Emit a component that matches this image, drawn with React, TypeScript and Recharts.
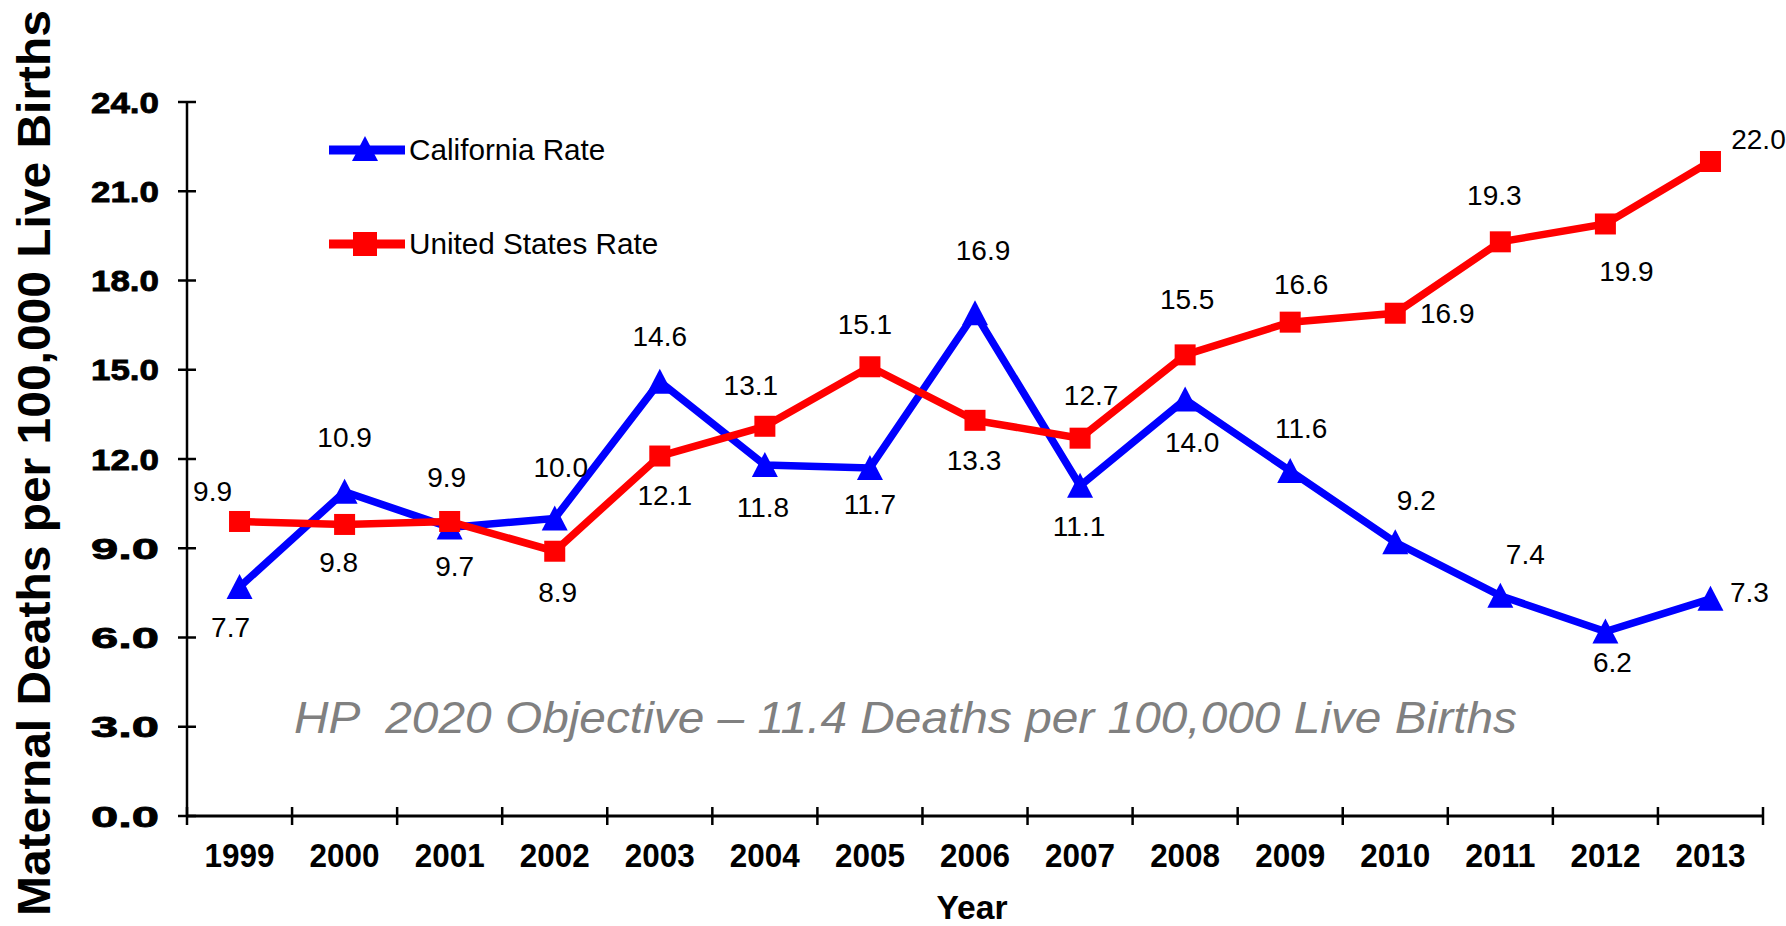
import React from 'react';
import { LineChart, Line, XAxis, YAxis, Legend } from 'recharts';

const years = ['1999', '2000', '2001', '2002', '2003', '2004', '2005', '2006', '2007', '2008', '2009', '2010', '2011', '2012', '2013'];
const californiaRate = [7.7, 10.9, 9.7, 10.0, 14.6, 11.8, 11.7, 16.9, 11.1, 14.0, 11.6, 9.2, 7.4, 6.2, 7.3];
const unitedStatesRate = [9.9, 9.8, 9.9, 8.9, 12.1, 13.1, 15.1, 13.3, 12.7, 15.5, 16.6, 16.9, 19.3, 19.9, 22.0];
const yTicks = [0, 3, 6, 9, 12, 15, 18, 21, 24];

const data = years.map((year, i) => ({ year, ca: californiaRate[i], us: unitedStatesRate[i] }));

// label placement (style): offsets of each label's centre from its point
const caLabelOffsets: [number, number][] = [
  [-9, 40], [0, -55], [5, 39], [6, -52], [0, -46], [-2, 42], [0, 36], [8, -63],
  [-1, 40], [7, 42], [11, -43], [21, -42], [25, -42], [7, 30], [39, -7],
];
const usLabelOffsets: [number, number][] = [
  [-27, -30], [-6, 38], [-3, -44], [3, 41], [5, 39], [-14, -41], [-5, -43], [-1, 40],
  [11, -43], [2, -56], [11, -38], [52, 0], [-6, -47], [21, 47], [48, -23],
];

const FONT = '"Liberation Sans", Arial, sans-serif';
const W = 1786;
const H = 926;
const M = { top: 102, right: 23, bottom: 50, left: 87 };
const Y_AXIS_W = 100;
const X_AXIS_H = 60;
const PLOT_LEFT = M.left + Y_AXIS_W;
const PLOT_RIGHT = W - M.right;
const BAND = (PLOT_RIGHT - PLOT_LEFT) / years.length;

const BLUE = '#0000FF';
const RED = '#FF0000';

const Triangle = ({ cx, cy, fill, s = 13 }: any) => (
  <path d={`M${cx},${cy - s} L${cx + s},${cy + s - 1} L${cx - s},${cy + s - 1} Z`} fill={fill} />
);
const Square = ({ cx, cy, fill, s = 10.5 }: any) => (
  <rect x={cx - s} y={cy - s} width={2 * s} height={2 * s} fill={fill} />
);

const makeLabel = (offsets: [number, number][]) => (props: any) => {
  const { x, y, value, index } = props;
  if (x == null || y == null) return null;
  const [dx, dy] = offsets[index] || [0, -40];
  return (
    <text
      key={`lbl-${index}`}
      x={x + dx}
      y={y + dy + 10}
      textAnchor="middle"
      fontFamily={FONT}
      fontSize={28}
      fill="#000"
    >
      {Number(value).toFixed(1)}
    </text>
  );
};

const XTick = (props: any) => {
  const { x, y, payload, index } = props;
  const left = x - BAND / 2;
  const right = x + BAND / 2;
  return (
    <g>
      <line x1={left} x2={left} y1={y - 9} y2={y + 9} stroke="#000" strokeWidth={2.5} />
      {index === years.length - 1 && (
        <line x1={right} x2={right} y1={y - 9} y2={y + 9} stroke="#000" strokeWidth={2.5} />
      )}
      <text
        x={x}
        y={y + 51}
        textAnchor="middle"
        fontFamily={FONT}
        fontWeight="bold"
        fontSize={33}
        textLength={70}
        lengthAdjust="spacingAndGlyphs"
        fill="#000"
      >
        {payload.value}
      </text>
    </g>
  );
};

const YTick = (props: any) => {
  const { x, y, payload } = props;
  return (
    <g>
      <line x1={x - 9} x2={x + 9} y1={y} y2={y} stroke="#000" strokeWidth={2.5} />
      <text
        x={x - 28}
        y={y + 10.5}
        textAnchor="end"
        fontFamily={FONT}
        fontWeight="bold"
        fontSize={29}
        textLength={68}
        lengthAdjust="spacingAndGlyphs"
        fill="#000"
        stroke="#000"
        strokeWidth={0.8}
      >
        {Number(payload.value).toFixed(1)}
      </text>
    </g>
  );
};

const LegendContent = (props: any) => {
  const { payload } = props;
  return (
    <div style={{ fontFamily: FONT }}>
      {(payload || []).map((entry: any) => {
        const isCa = entry.dataKey === 'ca';
        const color = isCa ? BLUE : RED;
        return (
          <div key={entry.value} style={{ display: 'flex', alignItems: 'center', height: 94 }}>
            <svg width={76} height={30} style={{ display: 'block' }}>
              <line x1={0} x2={76} y1={15} y2={15} stroke={color} strokeWidth={9} />
              {isCa ? (
                <Triangle cx={36} cy={14} fill={color} s={13} />
              ) : (
                <Square cx={36} cy={15} fill={color} s={12} />
              )}
            </svg>
            <span style={{ marginLeft: 4, fontSize: 29.7, color: '#000', whiteSpace: 'nowrap' }}>{entry.value}</span>
          </div>
        );
      })}
    </div>
  );
};

export default function App() {
  return (
    <div style={{ position: 'fixed', left: 0, top: 0, width: W, height: H, background: '#fff' }}>
      <LineChart width={W} height={H} data={data} margin={M}>
        <XAxis
          dataKey="year"
          height={X_AXIS_H}
          padding={{ left: BAND / 2, right: BAND / 2 }}
          axisLine={{ stroke: '#000', strokeWidth: 3 }}
          tickLine={false}
          tickSize={0}
          tickMargin={0}
          interval={0}
          tick={<XTick />}
          label={{
            content: () => (
              <text
                x={972}
                y={919}
                textAnchor="middle"
                fontFamily={FONT}
                fontWeight="bold"
                fontSize={34}
                textLength={71}
                lengthAdjust="spacingAndGlyphs"
                fill="#000"
              >
                Year
              </text>
            ),
          }}
        />
        <YAxis
          width={Y_AXIS_W}
          domain={[0, 24]}
          ticks={yTicks}
          interval={0}
          axisLine={{ stroke: '#000', strokeWidth: 2.5 }}
          tickLine={false}
          tickSize={0}
          tickMargin={0}
          tick={<YTick />}
          label={{
            content: () => (
              <text
                x={50}
                y={463}
                transform="rotate(-90, 50, 463)"
                textAnchor="middle"
                fontFamily={FONT}
                fontWeight="bold"
                fontSize={47}
                textLength={906}
                lengthAdjust="spacingAndGlyphs"
                fill="#000"
              >
                Maternal Deaths per 100,000 Live Births
              </text>
            ),
          }}
        />
        <Legend
          layout="vertical"
          align="center"
          verticalAlign="middle"
          content={<LegendContent />}
          wrapperStyle={{ left: 329, top: 103, width: 420, height: 188 }}
        />
        <Line
          name="California Rate"
          dataKey="ca"
          type="linear"
          stroke={BLUE}
          strokeWidth={7.5}
          isAnimationActive={false}
          dot={(p: any) => <Triangle key={`ca-${p.index}`} cx={p.cx} cy={p.cy} fill={BLUE} s={13} />}
          activeDot={false}
          label={makeLabel(caLabelOffsets)}
        />
        <Line
          name="United States Rate"
          dataKey="us"
          type="linear"
          stroke={RED}
          strokeWidth={7.5}
          isAnimationActive={false}
          dot={(p: any) => <Square key={`us-${p.index}`} cx={p.cx} cy={p.cy} fill={RED} s={10.5} />}
          activeDot={false}
          label={makeLabel(usLabelOffsets)}
        />
      </LineChart>
      <svg
        width={W}
        height={H}
        style={{ position: 'absolute', left: 0, top: 0, pointerEvents: 'none' }}
      >
        <text
          x={294}
          y={733}
          fontFamily={FONT}
          fontStyle="italic"
          fontSize={45}
          textLength={1223}
          lengthAdjust="spacingAndGlyphs"
          fill="#808080"
          style={{ whiteSpace: 'pre' }}
        >
          {'HP  2020 Objective \u2013 11.4 Deaths per 100,000 Live Births'}
        </text>
      </svg>
    </div>
  );
}
